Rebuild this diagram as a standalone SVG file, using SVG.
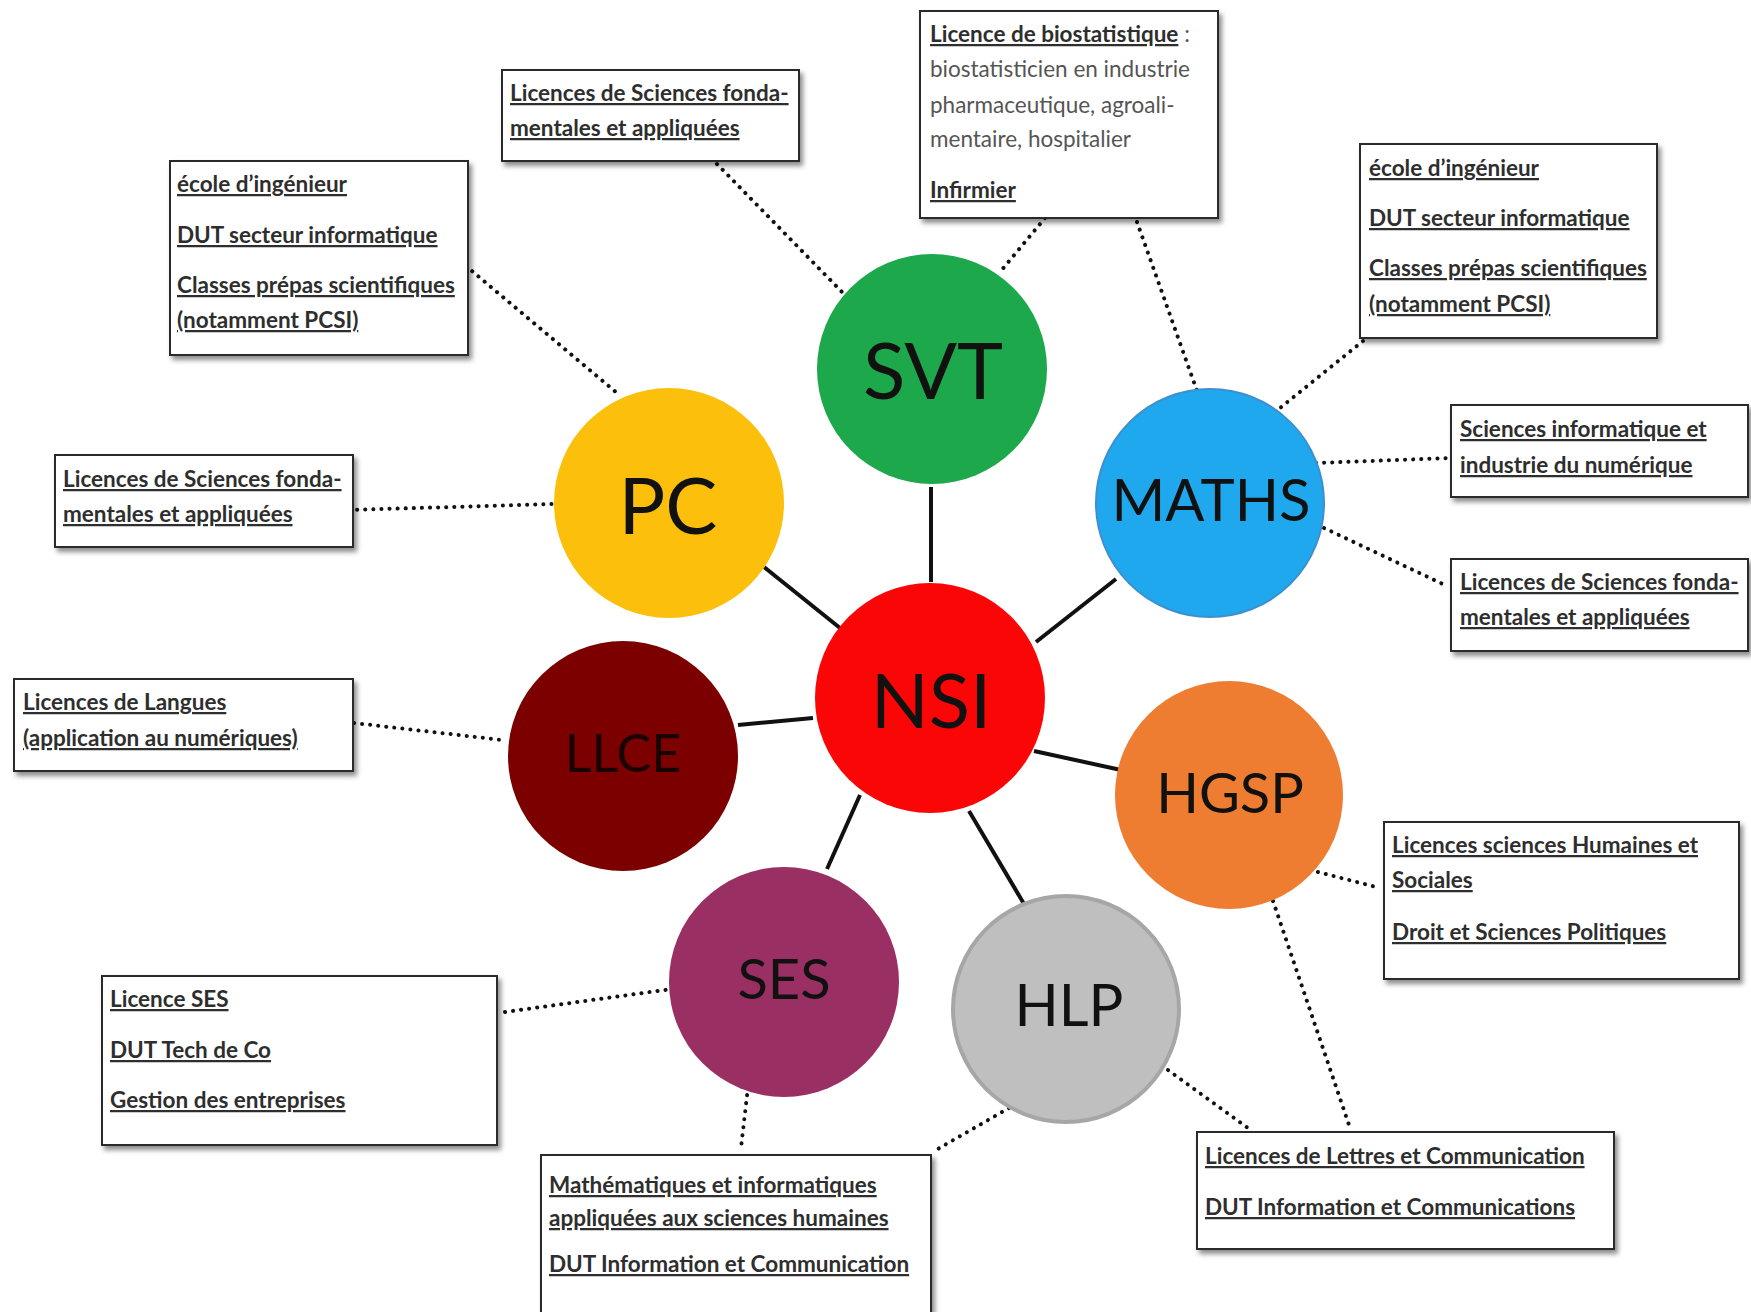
<svg xmlns="http://www.w3.org/2000/svg" width="1751" height="1312" viewBox="0 0 1751 1312">
<defs>
<filter id="sh" x="-10%" y="-10%" width="130%" height="140%">
<feDropShadow dx="3" dy="4" stdDeviation="2.5" flood-color="#000" flood-opacity="0.45"/>
</filter>
<style>
.box{fill:#fff;stroke:#2a2a2a;stroke-width:2;filter:url(#sh)}
.t{font-family:Lato,"Open Sans","Liberation Sans",sans-serif;font-weight:bold;font-size:22.5px;fill:#2e2e2e;text-decoration:underline}
.n{font-family:Lato,"Open Sans","Liberation Sans",sans-serif;font-weight:normal;font-size:22.5px;fill:#555}
.lbl{font-family:Lato,"Open Sans","Liberation Sans",sans-serif;text-anchor:middle;fill:#111}
.solid{stroke:#111;stroke-width:4;fill:none}
.dot{stroke:#111;stroke-width:4;fill:none;stroke-linecap:round;stroke-dasharray:0.1 8}
</style>
</defs>
<rect width="1751" height="1312" fill="#fff"/>

<g id="connectors">
<line class="solid" x1="931" y1="487" x2="931" y2="582"/>
<line class="solid" x1="764" y1="567" x2="840" y2="628"/>
<line class="solid" x1="1116" y1="579" x2="1036" y2="642"/>
<line class="solid" x1="738" y1="725" x2="813" y2="718"/>
<line class="solid" x1="1034" y1="751" x2="1121" y2="770"/>
<line class="solid" x1="860" y1="795" x2="827" y2="869"/>
<line class="solid" x1="969" y1="811" x2="1027" y2="909"/>

<line class="dot" x1="717" y1="164" x2="843" y2="293"/>
<line class="dot" x1="466" y1="266" x2="617" y2="393"/>
<line class="dot" x1="349" y1="510" x2="553" y2="504"/>
<line class="dot" x1="1045" y1="218" x2="1000" y2="272"/>
<line class="dot" x1="1137" y1="222" x2="1197" y2="391"/>
<line class="dot" x1="1363" y1="341" x2="1280" y2="408"/>
<line class="dot" x1="1316" y1="463" x2="1450" y2="458"/>
<line class="dot" x1="1324" y1="528" x2="1447" y2="586"/>
<line class="dot" x1="354" y1="723" x2="502" y2="740"/>
<line class="dot" x1="505" y1="1012" x2="672" y2="989"/>
<line class="dot" x1="748" y1="1087" x2="741" y2="1148"/>
<line class="dot" x1="1009" y1="1108" x2="936" y2="1150"/>
<line class="dot" x1="1168" y1="1070" x2="1252" y2="1131"/>
<line class="dot" x1="1273" y1="901" x2="1349" y2="1125"/>
<line class="dot" x1="1310" y1="870" x2="1380" y2="888"/>
</g>

<g id="svt">
<circle cx="932" cy="369" r="115" fill="#1ea84c"/>
<text class="lbl" x="933" y="399" font-size="78">SVT</text>
</g>
<g id="pc">
<circle cx="669" cy="503" r="115" fill="#fbbf0c"/>
<text class="lbl" x="668" y="534" font-size="78">PC</text>
</g>
<g id="maths">
<circle cx="1210" cy="503" r="114" fill="#1fa8ed" stroke="#3d8fcf" stroke-width="2"/>
<text class="lbl" x="1211" y="521" font-size="58">MATHS</text>
</g>
<g id="nsi">
<circle cx="930" cy="698" r="115" fill="#fb0606"/>
<text class="lbl" x="931" y="728" font-size="76">NSI</text>
</g>
<g id="llce">
<circle cx="623" cy="756" r="115" fill="#7d0000"/>
<text class="lbl" x="623" y="772" font-size="52" style="fill:#1a0000">LLCE</text>
</g>
<g id="hgsp">
<circle cx="1229" cy="795" r="114" fill="#ee7d31"/>
<text class="lbl" x="1230" y="813" font-size="56">HGSP</text>
</g>
<g id="ses">
<circle cx="784" cy="982" r="115" fill="#992f63"/>
<text class="lbl" x="784" y="999" font-size="56">SES</text>
</g>
<g id="hlp">
<circle cx="1066" cy="1009" r="113" fill="#bfbfbf" stroke="#a6a6a6" stroke-width="4"/>
<text class="lbl" x="1069" y="1026" font-size="58">HLP</text>
</g>

<g id="box-svt-licences">
<rect class="box" x="502" y="70" width="297" height="91"/>
<text class="t" x="510" y="101">Licences de Sciences fonda-</text>
<text class="t" x="510" y="136">mentales et appliquées</text>
</g>
<g id="box-pc-ecoles">
<rect class="box" x="170" y="161" width="298" height="194"/>
<text class="t" x="177" y="192">école d’ingénieur</text>
<text class="t" x="177" y="243">DUT secteur informatique</text>
<text class="t" x="177" y="293">Classes prépas scientifiques</text>
<text class="t" x="177" y="328">(notamment PCSI)</text>
</g>
<g id="box-pc-licences">
<rect class="box" x="55" y="455" width="298" height="92"/>
<text class="t" x="63" y="487">Licences de Sciences fonda-</text>
<text class="t" x="63" y="522">mentales et appliquées</text>
</g>
<g id="box-biostat">
<rect class="box" x="920" y="11" width="298" height="207"/>
<text class="t" x="930" y="42">Licence de biostatistique</text>
<text class="n" x="1190" y="42" text-anchor="end">:</text>
<text class="n" x="930" y="77">biostatisticien en industrie</text>
<text class="n" x="930" y="113">pharmaceutique, agroali-</text>
<text class="n" x="930" y="147">mentaire, hospitalier</text>
<text class="t" x="930" y="198">Infirmier</text>
</g>
<g id="box-maths-ecoles">
<rect class="box" x="1360" y="144" width="297" height="194"/>
<text class="t" x="1369" y="176">école d’ingénieur</text>
<text class="t" x="1369" y="226">DUT secteur informatique</text>
<text class="t" x="1369" y="276">Classes prépas scientifiques</text>
<text class="t" x="1369" y="312">(notamment PCSI)</text>
</g>
<g id="box-maths-info">
<rect class="box" x="1451" y="405" width="297" height="92"/>
<text class="t" x="1460" y="437">Sciences informatique et</text>
<text class="t" x="1460" y="473">industrie du numérique</text>
</g>
<g id="box-maths-licences">
<rect class="box" x="1451" y="559" width="297" height="92"/>
<text class="t" x="1460" y="590">Licences de Sciences fonda-</text>
<text class="t" x="1460" y="625">mentales et appliquées</text>
</g>
<g id="box-llce">
<rect class="box" x="14" y="679" width="339" height="92"/>
<text class="t" x="23" y="710">Licences de Langues</text>
<text class="t" x="23" y="746">(application au numériques)</text>
</g>
<g id="box-ses">
<rect class="box" x="102" y="976" width="395" height="169"/>
<text class="t" x="110" y="1007">Licence SES</text>
<text class="t" x="110" y="1058">DUT Tech de Co</text>
<text class="t" x="110" y="1108">Gestion des entreprises</text>
</g>
<g id="box-maths-humaines">
<rect class="box" x="541" y="1155" width="390" height="175"/>
<text class="t" x="549" y="1193">Mathématiques et informatiques</text>
<text class="t" x="549" y="1226">appliquées aux sciences humaines</text>
<text class="t" x="549" y="1272">DUT Information et Communication</text>
</g>
<g id="box-hgsp">
<rect class="box" x="1384" y="822" width="355" height="157"/>
<text class="t" x="1392" y="853">Licences sciences Humaines et</text>
<text class="t" x="1392" y="888">Sociales</text>
<text class="t" x="1392" y="940">Droit et Sciences Politiques</text>
</g>
<g id="box-hlp">
<rect class="box" x="1197" y="1132" width="417" height="117"/>
<text class="t" x="1205" y="1164">Licences de Lettres et Communication</text>
<text class="t" x="1205" y="1215">DUT Information et Communications</text>
</g>
</svg>
